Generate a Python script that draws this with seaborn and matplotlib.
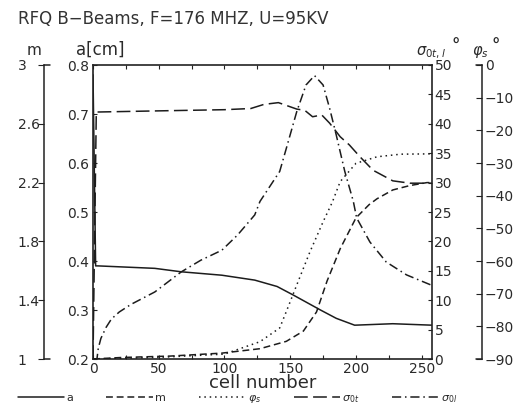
import numpy as np
import pandas as pd
import matplotlib
matplotlib.use('Agg')
import matplotlib.pyplot as plt
import seaborn as sns
from matplotlib.lines import Line2D
from matplotlib.ticker import MultipleLocator, FixedLocator

sns.set_style('ticks')
plt.rcParams['font.family'] = ['DejaVu Sans']
plt.rcParams['axes.unicode_minus'] = True

W, H = 529, 411

# ---------------- data ----------------
a_cell = [0, 2, 4, 47, 67, 98, 123, 140, 152, 173, 185, 199, 228, 258]
a_cm = [0.78, 0.39, 0.39, 0.385, 0.378, 0.371, 0.361, 0.348, 0.331, 0.300,
        0.283, 0.269, 0.272, 0.269]

m_cell = [0, 21, 59, 98, 127, 147, 160, 170, 178, 188, 200, 210, 216, 228,
          241, 254, 258]
m_val = [1.0, 1.01, 1.02, 1.04, 1.07, 1.12, 1.19, 1.32, 1.53, 1.75, 1.96,
         2.05, 2.09, 2.15, 2.18, 2.2, 2.2]

phi_cell = [0, 50, 100, 127, 142, 147, 155, 165, 175, 182, 188, 200, 216,
            234, 258]
phi_deg = [-90, -89.5, -88.5, -84.7, -80.5, -75.5, -67.3, -57.2, -48, -42,
           -35.7, -30.1, -28.1, -27.3, -27.2]

st_cell = [0, 2.5, 50, 100, 120, 130, 141, 155, 161, 167, 174, 180, 188,
           195, 203, 213, 228, 241, 258]
st_deg = [0, 42, 42.2, 42.4, 42.6, 43.3, 43.6, 42.5, 42.3, 41.2, 41.5, 40.1,
          37.8, 36.4, 34.4, 32.1, 30.3, 29.9, 29.9]

sl_cell = [0, 3, 4, 6, 10, 14, 20, 29, 47, 67, 82, 98, 110, 123, 127, 142,
           147, 155, 162, 168.5, 175, 180, 185, 191.5, 198, 200.5, 210.6,
           223, 238.5, 258]
sl_deg = [0, 0, 1.8, 3.5, 5.4, 6.8, 8.0, 9.3, 11.4, 14.8, 16.8, 18.5, 21.1,
          24.5, 26.8, 31.9, 35.8, 42.1, 46.6, 48.2, 46.6, 42.6, 38.1, 31.9,
          26.8, 24, 19.9, 16.5, 14.3, 12.5]

x_ticks = [0, 50, 100, 150, 200, 250]
a_ticks = [0.2, 0.3, 0.4, 0.5, 0.6, 0.7, 0.8]
m_ticks = [1, 1.4, 1.8, 2.2, 2.6, 3]
m_tick_labels = ['1', '1.4', '1.8', '2.2', '2.6', '3']
s_ticks = [0, 5, 10, 15, 20, 25, 30, 35, 40, 45, 50]
p_ticks = [-90, -80, -70, -60, -50, -40, -30, -20, -10, 0]
p_tick_labels = ['\u221290', '\u221280', '\u221270', '\u221260', '\u221250',
                 '\u221240', '\u221230', '\u221220', '\u221210', '0']

# ---------------- figure ----------------
fig = plt.figure(figsize=(W / 100, H / 100), dpi=100)
L, R, T, B = 93, 431.7, 65, 359
ax = fig.add_axes([L / W, 1 - B / H, (R - L) / W, (B - T) / H])
ax_s = ax.twinx()
ax_m = ax.twinx()
ax_p = ax.twinx()

LC = '#1c1c1c'
LW = 1.1

sns.lineplot(x=a_cell, y=a_cm, ax=ax, color=LC, lw=LW, ls='-', sort=False)
sns.lineplot(x=m_cell, y=m_val, ax=ax_m, color=LC, lw=LW, ls=(0, (4.5, 2.5)), sort=False)
sns.lineplot(x=phi_cell, y=phi_deg, ax=ax_p, color=LC, lw=LW, ls=(0, (1, 2.5)), sort=False)
sns.lineplot(x=st_cell, y=st_deg, ax=ax_s, color=LC, lw=LW, ls=(0, (9, 3.5)), sort=False)
sns.lineplot(x=sl_cell, y=sl_deg, ax=ax_s, color=LC, lw=LW, ls=(0, (6, 2.5, 1, 2.5)), sort=False)

h_a = ax.lines[-1]
h_m = ax_m.lines[-1]
h_p = ax_p.lines[-1]
h_st = ax_s.lines[-2]
h_sl = ax_s.lines[-1]

xmax = 257.6
for a_ in (ax, ax_s, ax_m, ax_p):
    a_.set_xlim(0, xmax)
    a_.set_xlabel('')
    a_.set_ylabel('')
    a_.patch.set_visible(False)

ax.set_ylim(0.2, 0.8)
ax_s.set_ylim(0, 50)
ax_m.set_ylim(1, 3)
ax_p.set_ylim(-90, 0)

SPC = '#222222'
for side in ('left', 'top', 'bottom'):
    ax.spines[side].set_color(SPC)
    ax.spines[side].set_linewidth(1.2)
ax.spines['right'].set_visible(False)

for side in ('left', 'top', 'bottom'):
    ax_s.spines[side].set_visible(False)
ax_s.spines['right'].set_color(SPC)
ax_s.spines['right'].set_linewidth(1.2)

for side in ('right', 'top', 'bottom'):
    ax_m.spines[side].set_visible(False)
m_pos = (44 - L) / (R - L)
ax_m.spines['left'].set_position(('axes', m_pos))
ax_m.spines['left'].set_color(SPC)
ax_m.spines['left'].set_linewidth(1.1)

for side in ('left', 'top', 'bottom'):
    ax_p.spines[side].set_visible(False)
p_pos = (482 - L) / (R - L)
ax_p.spines['right'].set_position(('axes', p_pos))
ax_p.spines['right'].set_color(SPC)
ax_p.spines['right'].set_linewidth(1.1)

FS = 10
TC = '#2a2a2a'
ax.xaxis.set_major_locator(FixedLocator(x_ticks))
ax.xaxis.set_minor_locator(MultipleLocator(25))
ax.tick_params(axis='x', which='both', direction='in', top=True, bottom=True,
               length=3, width=0.8, colors=SPC, labelsize=FS, labelcolor=TC, pad=2)
ax.set_xlabel('cell number', fontsize=13, color=TC, labelpad=-1)

ax.yaxis.set_major_locator(FixedLocator(a_ticks))
ax.set_yticklabels([f'{v:.1f}' for v in a_ticks])
ax.tick_params(axis='y', direction='in', left=True, right=False, length=3,
               width=0.8, colors=SPC, labelsize=FS, labelcolor=TC, pad=3)

ax_s.yaxis.set_major_locator(FixedLocator(s_ticks))
ax_s.tick_params(axis='y', direction='in', right=True, left=False,
                 labelright=True, labelleft=False, length=3, width=0.8,
                 colors=SPC, labelsize=FS, labelcolor=TC, pad=2)

ax_m.yaxis.set_ticks_position('left')
ax_m.yaxis.set_major_locator(FixedLocator(m_ticks))
ax_m.set_yticklabels(m_tick_labels)
ax_m.tick_params(axis='y', direction='out', left=True, right=False,
                 labelleft=True, labelright=False, length=4, width=0.8,
                 colors=SPC, labelsize=FS, labelcolor=TC, pad=15)
for lbl in ax_m.get_yticklabels():
    lbl.set_ha('left')

ax_p.yaxis.set_major_locator(FixedLocator(p_ticks))
ax_p.set_yticklabels(p_tick_labels)
ax_p.tick_params(axis='y', direction='in', right=True, left=False,
                 labelright=True, labelleft=False, length=4, width=0.8,
                 colors=SPC, labelsize=FS, labelcolor=TC, pad=2)

bw = 6 / (R - L)
for yy in (0, 1):
    ax.add_line(Line2D([m_pos, m_pos + bw], [yy, yy], transform=ax.transAxes,
                       color=SPC, lw=1.1, clip_on=False))
    ax.add_line(Line2D([p_pos - bw, p_pos], [yy, yy], transform=ax.transAxes,
                       color=SPC, lw=1.1, clip_on=False))


def ftext(x, y, s, **kw):
    fig.text(x / W, 1 - y / H, s, **kw)


ftext(18, 24, 'RFQ B\u2212Beams, F=176 MHZ, U=95KV', fontsize=12,
      color='#333333', va='baseline', ha='left')
ftext(76, 55, 'a[cm]', fontsize=12, color=TC, va='baseline', ha='left')
ftext(27, 55, 'm', fontsize=11, color=TC, va='baseline', ha='left')
ftext(446, 55, r'$\sigma_{0t,l}$', fontsize=10.5, color=TC, va='baseline', ha='right')
ftext(456, 52, '\u00b0', fontsize=12, color=TC, va='baseline', ha='center', fontweight='bold')
ftext(480, 55, r'$\varphi_s$', fontsize=10.5, color=TC, va='baseline', ha='center')
ftext(496, 52, '\u00b0', fontsize=12, color=TC, va='baseline', ha='center', fontweight='bold')

fig.legend([h_a, h_m, h_p, h_st, h_sl],
           ['a', 'm', r'$\varphi_s$', r'$\sigma_{0t}$', r'$\sigma_{0l}$'],
           loc='center', bbox_to_anchor=(0.449, 1 - 399 / H), ncol=5,
           frameon=False, fontsize=8, handlelength=4.2, handletextpad=0.2,
           columnspacing=2.95, borderpad=0, borderaxespad=0, labelcolor=TC)

fig.savefig('out.png', dpi=100, facecolor='white')
